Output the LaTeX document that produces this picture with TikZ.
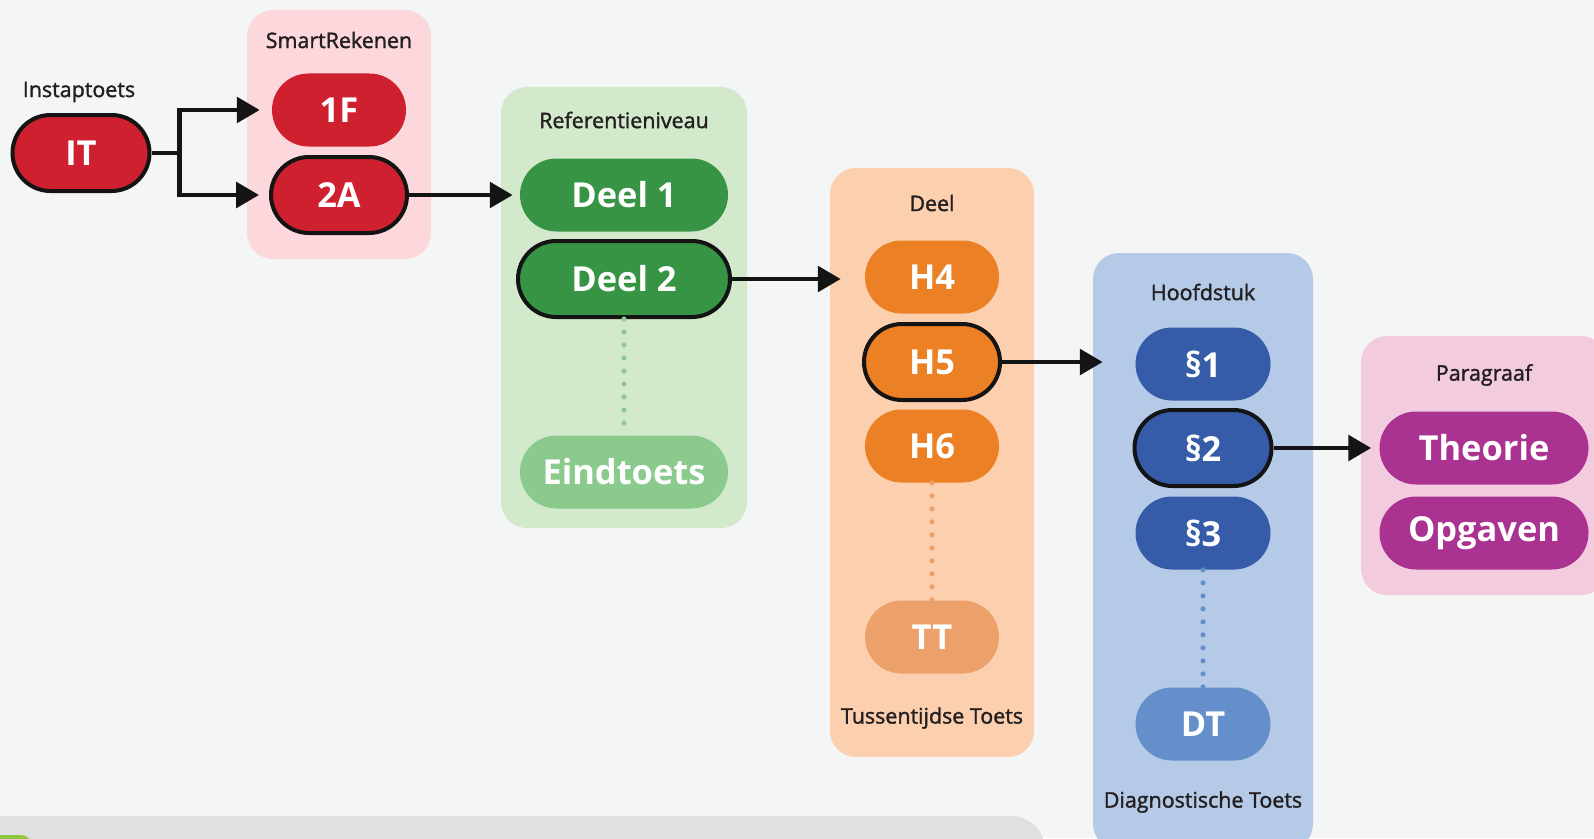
\documentclass[tikz,border=0pt]{standalone}
\usepackage{fontspec}
\setmainfont{Open Sans}
\newfontfamily\headfont[FakeBold=1.6]{Open Sans}
\usepackage{xcolor}
\usetikzlibrary{shapes.misc,arrows.meta,positioning}

\definecolor{bgcol}{HTML}{F4F6F5}
\definecolor{labcol}{HTML}{231F20}
\definecolor{barcol}{HTML}{E0E0E0}
\definecolor{limecol}{HTML}{8DC63F}
\definecolor{redfill}{HTML}{CF2030}
\definecolor{srbg}{HTML}{FCD7DB}
\definecolor{greenfill}{HTML}{379444}
\definecolor{greenlight}{HTML}{8ACA8D}
\definecolor{refbg}{HTML}{D3E9CB}
\definecolor{orfill}{HTML}{EC8025}
\definecolor{orlight}{HTML}{ECA06A}
\definecolor{deelbg}{HTML}{FCCFAE}
\definecolor{bluefill}{HTML}{365CA9}
\definecolor{bluelight}{HTML}{658FCA}
\definecolor{hfdbg}{HTML}{B5CAE7}
\definecolor{magfill}{HTML}{AA3290}
\definecolor{parbg}{HTML}{F3CBDE}

\newcommand{\pxu}{0.02cm}

\tikzset{
    pill/.style={rounded rectangle, inner sep=0pt, minimum width=#1*\pxu,
        minimum height=73*\pxu, text=white, font=\fontsize{19.6}{23}\selectfont\bfseries},
    sel/.style={draw=black!92, line width=4*\pxu, minimum height=76*\pxu},
    groupbox/.style={rectangle, rounded corners=26*\pxu, inner sep=0pt},
    grouplabel/.style={font=\headfont\fontsize{12.2}{14}\selectfont, text=labcol},
    arr/.style={-{Triangle[length=13pt,width=14.5pt]}, line width=4.3*\pxu, draw=black!92},
    dots/.style={line width=2.9pt, line cap=round, dash pattern=on 0pt off 7.4pt}
}

\begin{document}
\begin{tikzpicture}[x=0.02cm,y=-0.02cm]
    \useasboundingbox (0,0) rectangle (1594,838);
    \clip (0,0) rectangle (1594,838);
    \fill[bgcol] (0,0) rectangle (1594,838);

    % bar at the bottom
    \fill[barcol, rounded corners=34*\pxu] (-40,816) rectangle (1045,900);
    \fill[limecol, rounded corners=14*\pxu] (-40,835) rectangle (34,870);

    % group boxes
    \node[groupbox, fill=srbg, minimum width=184*\pxu, minimum height=249*\pxu] (srbox) at (339,134.5) {};
    \node[groupbox, fill=refbg, minimum width=246*\pxu, minimum height=441*\pxu] (refbox) at (624,307.5) {};
    \node[groupbox, fill=deelbg, minimum width=204*\pxu, minimum height=589*\pxu] (deelbox) at (932,462.5) {};
    \node[groupbox, fill=hfdbg, minimum width=220*\pxu, minimum height=597*\pxu] (hfdbox) at (1203,551.5) {};
    \node[groupbox, fill=parbg, minimum width=246*\pxu, minimum height=259*\pxu] (parbox) at (1484,465.5) {};

    % titles
    \node[grouplabel] (lbl-it) at (79,92) {Instaptoets};
    \node[grouplabel] (lbl-sr) at (339,40) {SmartRekenen};
    \node[grouplabel] (lbl-ref) at (624,120) {Referentieniveau};
    \node[grouplabel] (lbl-deel) at (932,203) {Deel};
    \node[grouplabel] (lbl-tt) at (932,718) {Tussentijdse Toets};
    \node[grouplabel] (lbl-hfd) at (1203,292) {Hoofdstuk};
    \node[grouplabel] (lbl-dt) at (1203,802) {Diagnostische Toets};
    \node[grouplabel] (lbl-par) at (1484,375) {Paragraaf};

    % Instaptoets and SmartRekenen
    \node[pill=137, sel, fill=redfill] (IT) at (81,153) {IT};
    \node[pill=134, fill=redfill] (1F) at (339,110) {1F};
    \node[pill=136, sel, fill=redfill] (2A) at (339,195) {2A};

    % Referentieniveau
    \node[pill=208, fill=greenfill] (deel1) at (624,195) {Deel 1};
    \node[pill=212, sel, fill=greenfill] (deel2) at (624,279) {Deel 2};
    \node[pill=208, fill=greenlight] (eind) at (624,472) {Eindtoets};

    % Deel
    \node[pill=134, fill=orfill] (H4) at (932,277) {H4};
    \node[pill=136, sel, fill=orfill] (H5) at (932,362) {H5};
    \node[pill=134, fill=orfill] (H6) at (932,446) {H6};
    \node[pill=134, fill=orlight] (TT) at (932,637) {TT};

    % Hoofdstuk
    \node[pill=135, fill=bluefill] (par1) at (1203,364) {§1};
    \node[pill=137, sel, fill=bluefill] (par2) at (1203,448) {§2};
    \node[pill=135, fill=bluefill] (par3) at (1203,533) {§3};
    \node[pill=135, fill=bluelight] (DT) at (1203,724) {DT};

    % Paragraaf
    \node[pill=209, fill=magfill] (theorie) at (1484,448) {Theorie};
    \node[pill=209, fill=magfill] (opgaven) at (1484,533) {Opgaven};

    % arrows
    \coordinate (split) at ([xshift=28*\pxu]IT.east);
    \draw[arr, shorten >=12*\pxu] (IT.east) -- (split) |- (1F.west);
    \draw[arr, shorten >=10*\pxu] (split) |- (2A.west);
    \draw[arr, shorten >=7*\pxu] (2A.east) -- (deel1.west);
    \draw[arr] (deel2.east) -- ([xshift=11*\pxu]deel2.east -| deelbox.west);
    \draw[arr] (H5.east) -- ([xshift=10*\pxu]H5.east -| hfdbox.west);
    \draw[arr, shorten >=8*\pxu] (par2.east) -- (theorie.west);

    % dotted links to the tests
    \draw[dots, greenlight] (deel2.south) -- (eind.north);
    \draw[dots, orlight] (H6.south) -- (TT.north);
    \draw[dots, bluelight] (par3.south) -- (DT.north);
\end{tikzpicture}
\end{document}
